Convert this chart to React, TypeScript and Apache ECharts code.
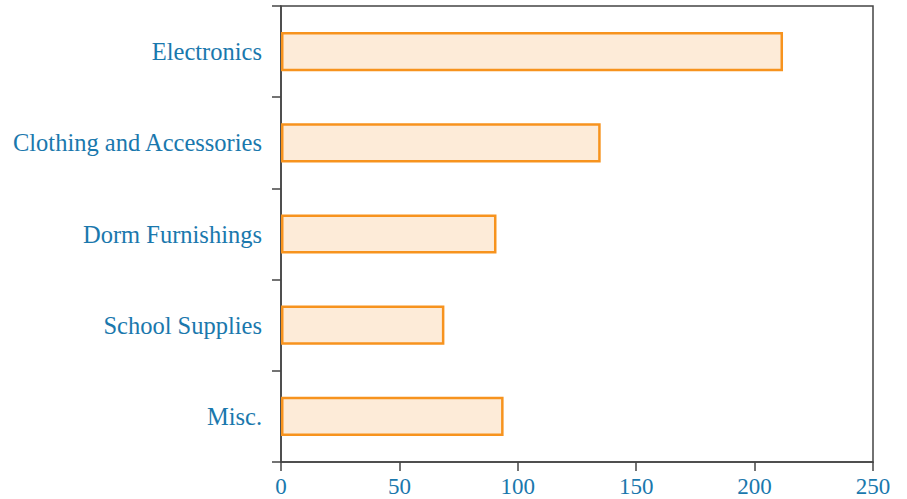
import React, { useEffect, useRef } from "react";
import * as echarts from "echarts";

const categories = ["Electronics", "Clothing and Accessories", "Dorm Furnishings", "School Supplies", "Misc."];
const values = [212, 135, 91, 69, 94];
const xTicks = [0, 50, 100, 150, 200, 250];

export default function App() {
  const ref = useRef<HTMLDivElement>(null);
  useEffect(() => {
    document.body.style.margin = "0";
    if (!ref.current) return;
    const chart = echarts.init(ref.current, null, { renderer: "svg" });
    const font = "'Liberation Serif', 'DejaVu Serif', serif";
    const labelColor = "#1a78ad";
    chart.setOption({
      animation: false,
      grid: { left: 281, right: 34, top: 6, bottom: 37, show: true, borderColor: "#444", borderWidth: 1.5, backgroundColor: "transparent" },
      xAxis: {
        type: "value",
        min: xTicks[0],
        max: xTicks[xTicks.length - 1],
        interval: 50,
        splitLine: { show: false },
        axisLine: { show: true, lineStyle: { color: "#444", width: 1.5 } },
        axisTick: { show: true, length: 9, lineStyle: { color: "#444", width: 1.5 } },
        axisLabel: { color: labelColor, fontSize: 23, fontFamily: font, margin: 13 },
      },
      yAxis: {
        type: "category",
        data: categories,
        inverse: true,
        axisLine: { show: true, lineStyle: { color: "#444", width: 1.5 } },
        axisTick: { show: true, length: 9, lineStyle: { color: "#444", width: 1.5 } },
        axisLabel: { color: labelColor, fontSize: 24.5, fontFamily: font, margin: 19 },
      },
      series: [
        {
          type: "bar",
          data: values,
          barWidth: "43%",
          itemStyle: { color: "#fdebd8", borderColor: "#f7931e", borderWidth: 2.5 },
        },
      ],
    });
    return () => chart.dispose();
  }, []);
  return <div ref={ref} style={{ width: 907, height: 499 }} />;
}
